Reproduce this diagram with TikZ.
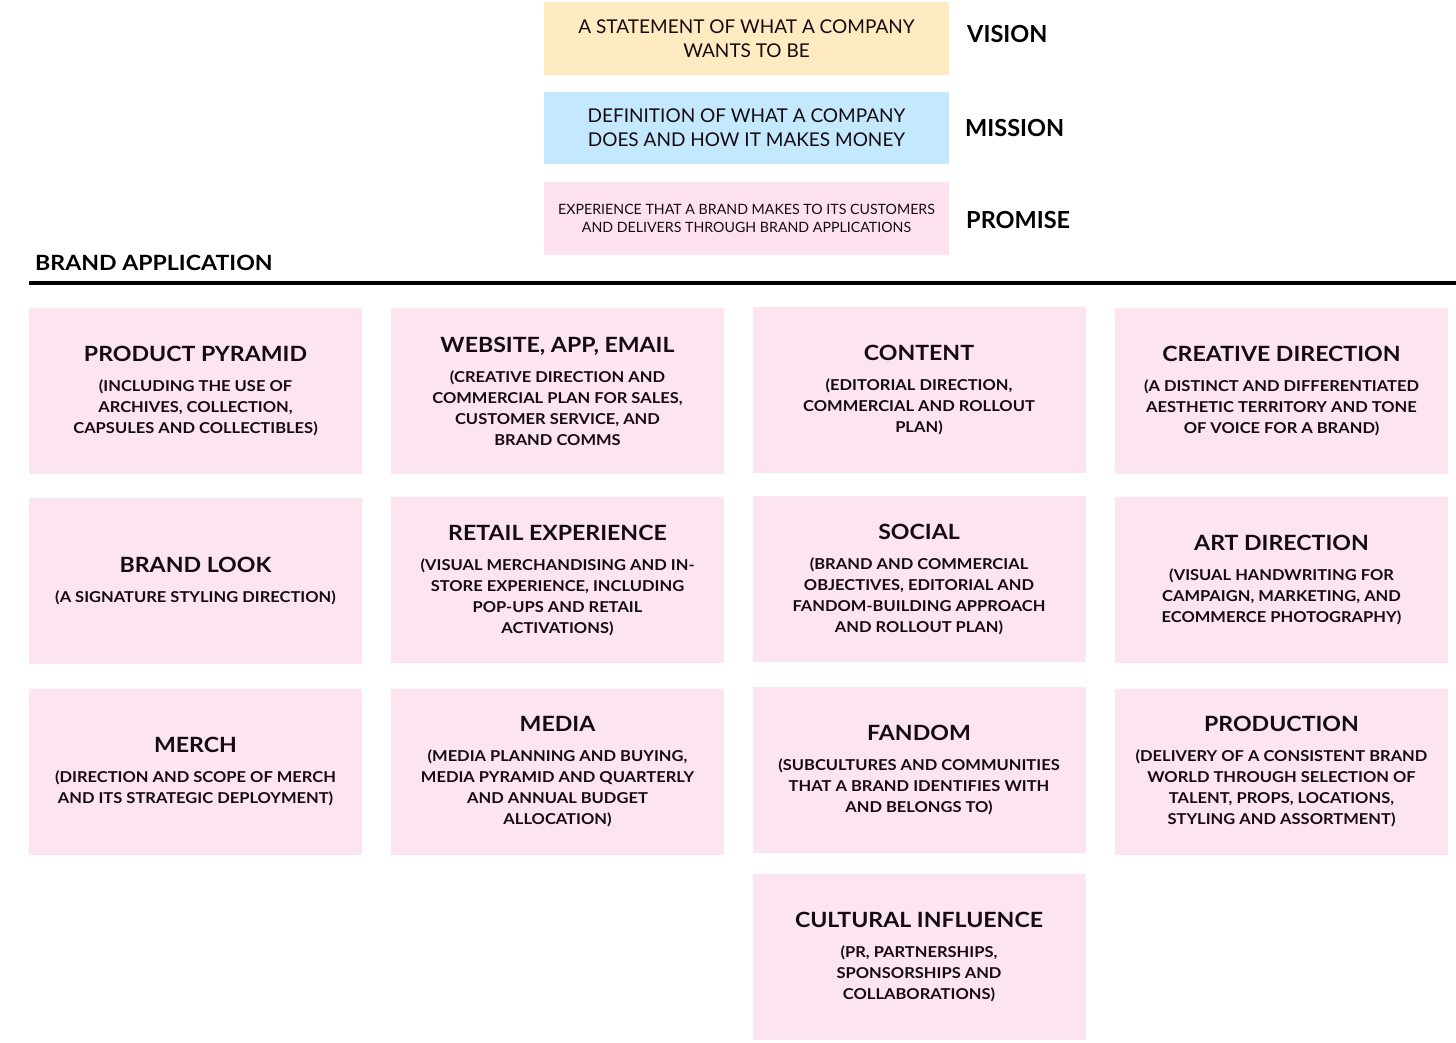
\documentclass[tikz,border=0pt]{standalone}
\usepackage{fontspec}
\setmainfont{Lato}
\newfontfamily\widefont[FakeStretch=1.1]{Lato}
\definecolor{cardpink}{HTML}{FCE4F1}
\definecolor{visionbg}{HTML}{FFEBC2}
\definecolor{missionbg}{HTML}{C4E8FD}
\definecolor{promisebg}{HTML}{FDE1F1}
\definecolor{ink}{HTML}{140C10}
\newcommand{\cardtitle}{\fontsize{21}{31}\selectfont\widefont\bfseries}
\newcommand{\cardsub}{\fontsize{15}{21}\selectfont\widefont\bfseries}
\begin{document}
\begin{tikzpicture}[x=1pt,y=-1pt,
  card/.style={fill=cardpink, minimum width=333pt, minimum height=166pt, inner sep=0pt, align=center, font=\cardsub, text=ink},
  topbox/.style={minimum width=405pt, minimum height=73pt, inner sep=0pt, align=center, text=ink},
  toplabel/.style={anchor=west, inner sep=0pt, font=\fontsize{23.5}{26}\selectfont\bfseries, text=black},
  ]
\fill[white] (0,0) rectangle (1456,1042);
\useasboundingbox (0,0) rectangle (1456,1042);

% top boxes
\node[topbox, fill=visionbg, font=\fontsize{19}{24}\selectfont] (vision) at (746.5,38.5) {A STATEMENT OF WHAT A COMPANY\\WANTS TO BE};
\node[topbox, fill=missionbg, minimum height=72pt, font=\fontsize{19}{24}\selectfont] (mission) at (746.5,128) {DEFINITION OF WHAT A COMPANY\\DOES AND HOW IT MAKES MONEY};
\node[topbox, fill=promisebg, font=\fontsize{14.2}{18}\selectfont] (promise) at (746.5,218.5) {EXPERIENCE THAT A BRAND MAKES TO ITS CUSTOMERS\\AND DELIVERS THROUGH BRAND APPLICATIONS};

\node[toplabel] (lvision) at (967,34) {VISION};
\node[toplabel] (lmission) at (965,128) {MISSION};
\node[toplabel] (lpromise) at (966,220) {PROMISE};

% brand application header
\node[anchor=west, inner sep=0pt, font=\fontsize{21}{24}\selectfont\widefont\bfseries, text=black] (ba) at (35,263) {BRAND APPLICATION};
\coordinate (ruleL) at (29,283);
\coordinate (ruleR) at (1456,283);
\draw[line width=4pt, black] (ruleL) -- (ruleR);

% row 1
\node[card] (pp) at (195.5,391) {{\cardtitle PRODUCT PYRAMID}\\[9pt](INCLUDING THE USE OF\\ARCHIVES, COLLECTION,\\CAPSULES AND COLLECTIBLES)};
\node[card] (web) at (557.5,391) {{\cardtitle WEBSITE, APP, EMAIL}\\[9pt](CREATIVE DIRECTION AND\\COMMERCIAL PLAN FOR SALES,\\CUSTOMER SERVICE, AND\\BRAND COMMS};
\node[card] (content) at (919,390) {{\cardtitle CONTENT}\\[9pt](EDITORIAL DIRECTION,\\COMMERCIAL AND ROLLOUT\\PLAN)};
\node[card] (creative) at (1281.5,391) {{\cardtitle CREATIVE DIRECTION}\\[9pt](A DISTINCT AND DIFFERENTIATED\\AESTHETIC TERRITORY AND TONE\\OF VOICE FOR A BRAND)};

% row 2
\node[card] (look) at (195.5,581) {{\cardtitle BRAND LOOK}\\[9pt](A SIGNATURE STYLING DIRECTION)};
\node[card] (retail) at (557.5,580) {{\cardtitle RETAIL EXPERIENCE}\\[9pt](VISUAL MERCHANDISING AND IN-\\STORE EXPERIENCE, INCLUDING\\POP-UPS AND RETAIL\\ACTIVATIONS)};
\node[card] (social) at (919,579) {{\cardtitle SOCIAL}\\[9pt](BRAND AND COMMERCIAL\\OBJECTIVES, EDITORIAL AND\\FANDOM-BUILDING APPROACH\\AND ROLLOUT PLAN)};
\node[card] (art) at (1281.5,580) {{\cardtitle ART DIRECTION}\\[9pt](VISUAL HANDWRITING FOR\\CAMPAIGN, MARKETING, AND\\ECOMMERCE PHOTOGRAPHY)};

% row 3
\node[card] (merch) at (195.5,771.5) {{\cardtitle MERCH}\\[9pt](DIRECTION AND SCOPE OF MERCH\\AND ITS STRATEGIC DEPLOYMENT)};
\node[card] (media) at (557.5,771.5) {{\cardtitle MEDIA}\\[9pt](MEDIA PLANNING AND BUYING,\\MEDIA PYRAMID AND QUARTERLY\\AND ANNUAL BUDGET\\ALLOCATION)};
\node[card] (fandom) at (919,769.5) {{\cardtitle FANDOM}\\[9pt](SUBCULTURES AND COMMUNITIES\\THAT A BRAND IDENTIFIES WITH\\AND BELONGS TO)};
\node[card] (production) at (1281.5,771.5) {{\cardtitle PRODUCTION}\\[9pt](DELIVERY OF A CONSISTENT BRAND\\WORLD THROUGH SELECTION OF\\TALENT, PROPS, LOCATIONS,\\STYLING AND ASSORTMENT)};

% row 4
\node[card] (cultural) at (919,956.5) {{\cardtitle CULTURAL INFLUENCE}\\[9pt](PR, PARTNERSHIPS,\\SPONSORSHIPS AND\\COLLABORATIONS)};
\end{tikzpicture}
\end{document}
